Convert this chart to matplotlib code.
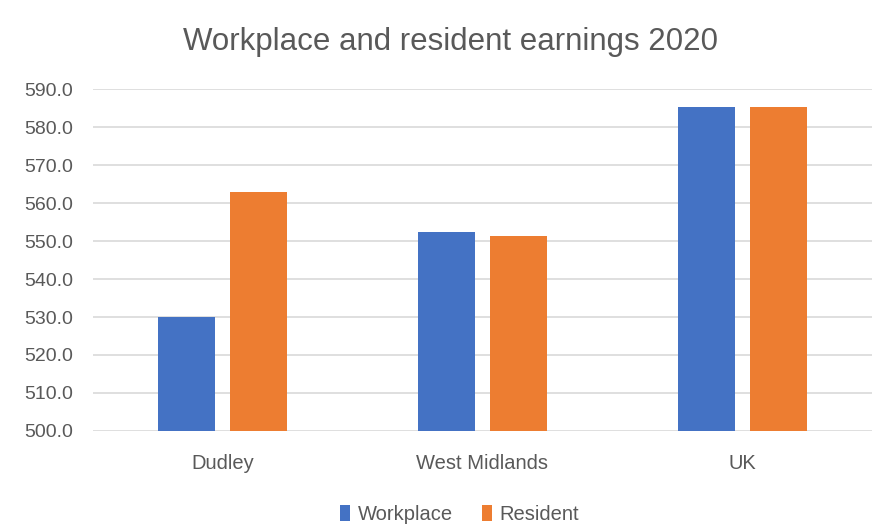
import matplotlib
matplotlib.use("Agg")
import matplotlib.pyplot as plt
import numpy as np

# weekly earnings by area, 2020
areas = ["Dudley", "West Midlands", "UK"]
workplace = [530.1, 552.3, 585.4]
resident = [563.0, 551.3, 585.4]

plt.rcParams['font.family'] = ['Liberation Sans', 'DejaVu Sans']
text_grey = '#595959'

fig = plt.figure(figsize=(8.74, 5.26), dpi=100)
ax = fig.add_axes([0.106, 0.181, 0.892, 0.649])

x = np.arange(len(areas))
w = 0.22
ax.bar(x - 0.139, workplace, w, color='#4472C4', label='Workplace', zorder=3)
ax.bar(x + 0.139, resident, w, color='#ED7D31', label='Resident', zorder=3)

ax.set_xlim(-0.5, 2.5)
ax.set_ylim(500, 590)
ax.set_yticks(np.arange(500, 591, 10))
ax.set_yticklabels(['%.1f' % v for v in np.arange(500, 591, 10)])
ax.grid(axis='y', color='#d9d9d9', linewidth=1.2, zorder=0)
ax.set_xticks(x)
ax.set_xticklabels(areas)
for s in ax.spines.values():
    s.set_visible(False)
ax.tick_params(length=0, colors=text_grey)
ax.tick_params(axis='x', pad=17, labelsize=14.5)
ax.tick_params(axis='y', pad=14, labelsize=14)

fig.text(0.515, 0.92, 'Workplace and resident earnings 2020', ha='center', va='center',
         fontsize=22.5, color=text_grey)

fig.legend(loc='center', bbox_to_anchor=(0.526, 0.022), ncol=2, frameon=False,
           fontsize=14.5, labelcolor=text_grey, handlelength=0.5, handleheight=0.8,
           handletextpad=0.4, columnspacing=1.4)

fig.savefig('out.png', dpi=100, facecolor='white')
